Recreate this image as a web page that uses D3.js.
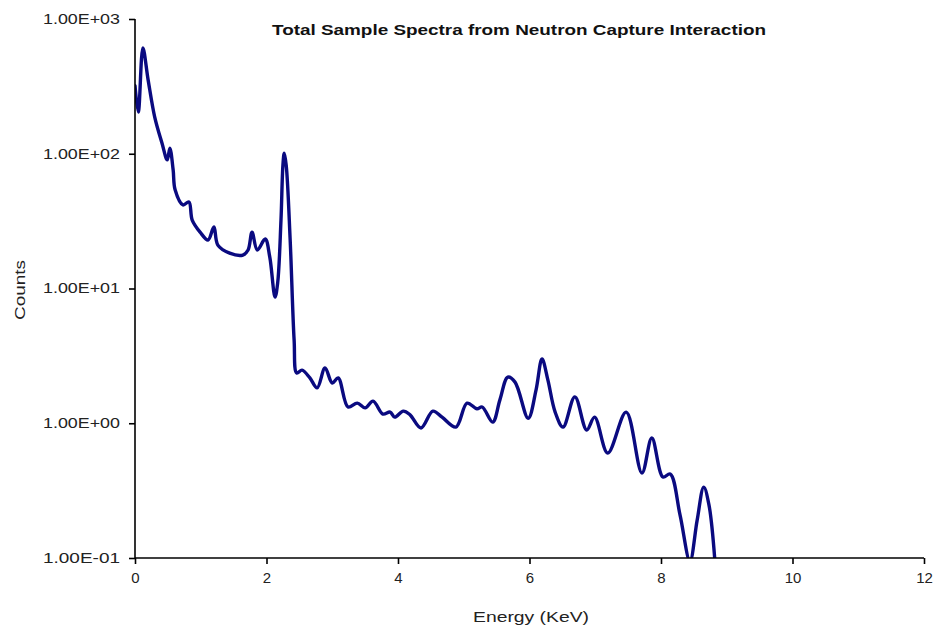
<!DOCTYPE html>
<html>
<head>
<meta charset="utf-8">
<script src="https://cdn.jsdelivr.net/npm/d3@7"></script>
<style>
  html, body { margin: 0; padding: 0; background: #fff; }
  svg { display: block; }
</style>
</head>
<body>
<svg id="chart" width="943" height="633"></svg>
<script>
// ---- Data ----
const energy = [0.00, 0.05, 0.12, 0.20, 0.30, 0.41, 0.49, 0.53, 0.58, 0.61, 0.73, 0.82, 0.87, 0.99, 1.11, 1.20, 1.26, 1.44, 1.64, 1.72, 1.78, 1.86, 1.98, 2.05, 2.13, 2.17, 2.22, 2.25, 2.27, 2.30, 2.36, 2.42, 2.46, 2.54, 2.66, 2.77, 2.89, 3.00, 3.09, 3.24, 3.38, 3.50, 3.62, 3.77, 3.88, 3.95, 4.08, 4.18, 4.35, 4.53, 4.67, 4.88, 5.05, 5.20, 5.28, 5.44, 5.55, 5.67, 5.78, 5.98, 6.10, 6.19, 6.28, 6.39, 6.51, 6.69, 6.87, 6.99, 7.19, 7.47, 7.71, 7.86, 8.03, 8.14, 8.29, 8.44, 8.55, 8.65, 8.73, 8.82];
const counts = [320, 204, 609, 352, 187, 120, 90, 110, 76, 54, 41.7, 43.9, 32.2, 26.2, 22.9, 28.6, 21.0, 18.3, 17.7, 19.3, 26.2, 19.3, 23.3, 17.1, 8.65, 11.0, 32, 82.6, 101, 82, 22.9, 4.15, 2.36, 2.48, 2.17, 1.83, 2.57, 1.99, 2.17, 1.32, 1.41, 1.30, 1.46, 1.17, 1.21, 1.11, 1.23, 1.16, 0.923, 1.23, 1.11, 0.937, 1.41, 1.28, 1.32, 1.02, 1.49, 2.20, 2.02, 1.09, 1.77, 3.00, 2.09, 1.21, 0.937, 1.57, 0.891, 1.11, 0.601, 1.21, 0.427, 0.778, 0.399, 0.420, 0.208, 0.095, 0.191, 0.336, 0.247, 0.095];

const xTicks = [0, 2, 4, 6, 8, 10, 12];
const yTicks = [0.1, 1, 10, 100, 1000];
const yTickLabels = ["1.00E-01", "1.00E+00", "1.00E+01", "1.00E+02", "1.00E+03"];

const titleText = "Total Sample Spectra from Neutron Capture Interaction";
const xTitle = "Energy (KeV)";
const yTitle = "Counts";

// ---- Chart ----
const svg = d3.select("#chart");
const x = d3.scaleLinear().domain([0, 12]).range([135, 924]);
const y = d3.scaleLog().domain([0.1, 1000]).range([558, 19]);

const font = "'Liberation Sans', Arial, sans-serif";

svg.append("defs").append("clipPath").attr("id", "plotclip")
  .append("rect")
  .attr("x", x(0)).attr("y", y(1000) - 10)
  .attr("width", x(12) - x(0)).attr("height", y(0.1) - y(1000) + 10);

// series line
const pts = energy.map((e, i) => [e, counts[i]]);
const line = d3.line()
  .x(d => x(d[0]))
  .y(d => y(d[1]))
  .curve(d3.curveCatmullRom.alpha(0.5));

svg.append("path")
  .datum(pts)
  .attr("clip-path", "url(#plotclip)")
  .attr("d", line)
  .attr("fill", "none")
  .attr("stroke", "#0a0a80")
  .attr("stroke-width", 3.4)
  .attr("stroke-linejoin", "round")
  .attr("stroke-linecap", "round");

// y axis
const yAxis = d3.axisLeft(y)
  .tickValues(yTicks)
  .tickSize(6)
  .tickPadding(9)
  .tickFormat((d, i) => yTickLabels[i]);
const gy = svg.append("g").attr("transform", `translate(${x(0)},0)`).call(yAxis);
gy.select(".domain").attr("stroke", "#000").attr("stroke-width", 1.6).attr("d", `M0,${y(1000)}V${y(0.1)}`);
gy.selectAll(".tick line").attr("stroke", "#000").attr("stroke-width", 1.6);
gy.selectAll(".tick text")
  .attr("font-family", font).attr("font-size", 14).attr("fill", "#222")
  .attr("textLength", 77).attr("lengthAdjust", "spacingAndGlyphs");

// x axis
const xAxis = d3.axisBottom(x)
  .tickValues(xTicks)
  .tickSize(6)
  .tickPadding(8)
  .tickFormat(d3.format("d"));
const gx = svg.append("g").attr("transform", `translate(0,${y(0.1)})`).call(xAxis);
gx.select(".domain").attr("stroke", "#000").attr("stroke-width", 1.6).attr("d", `M${x(0)},0H${x(12)}`);
gx.selectAll(".tick line").attr("stroke", "#000").attr("stroke-width", 1.6);
gx.selectAll(".tick text")
  .attr("font-family", font).attr("font-size", 15).attr("fill", "#222");

// title
svg.append("text")
  .attr("x", 519).attr("y", 35)
  .attr("text-anchor", "middle")
  .attr("font-family", font).attr("font-size", 14).attr("font-weight", "bold")
  .attr("fill", "#111")
  .attr("textLength", 494).attr("lengthAdjust", "spacingAndGlyphs")
  .text(titleText);

// x axis title
svg.append("text")
  .attr("x", 531).attr("y", 622)
  .attr("text-anchor", "middle")
  .attr("font-family", font).attr("font-size", 15)
  .attr("fill", "#222")
  .attr("textLength", 116).attr("lengthAdjust", "spacingAndGlyphs")
  .text(xTitle);

// y axis title
svg.append("text")
  .attr("transform", "translate(25,290) rotate(-90)")
  .attr("text-anchor", "middle")
  .attr("font-family", font).attr("font-size", 14)
  .attr("fill", "#222")
  .attr("textLength", 60).attr("lengthAdjust", "spacingAndGlyphs")
  .text(yTitle);
</script>
</body>
</html>
